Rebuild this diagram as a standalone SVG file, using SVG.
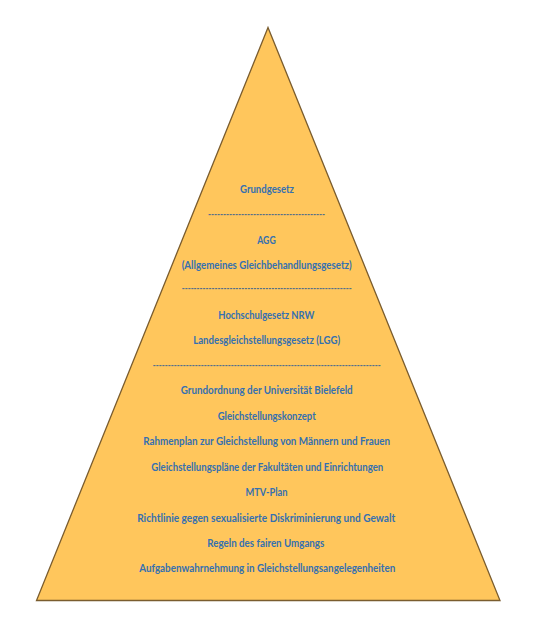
<svg xmlns="http://www.w3.org/2000/svg" width="536" height="617" viewBox="0 0 536 617">
<style>
.t{font-family:Lato,"Liberation Sans",sans-serif;font-weight:bold;font-size:11px;fill:#3570B0;text-anchor:middle}
.d{font-family:Lato,"Liberation Sans",sans-serif;font-weight:bold;font-size:11px;fill:#56708A;text-anchor:middle}
</style>
<rect width="536" height="617" fill="#ffffff"/>
<g id="pyramid">
<polygon points="268,27.5 36.5,600.5 500,600.5" fill="#FFC65C" stroke="#7A5C2E" stroke-width="1.3" stroke-linejoin="miter"/>
</g>
<g id="labels">
<text class="t" x="267" y="193" textLength="54" lengthAdjust="spacingAndGlyphs">Grundgesetz</text>
<text class="d" x="266.6" y="217.5" textLength="117" lengthAdjust="spacingAndGlyphs">---------------------------------------</text>
<text class="t" x="266.5" y="244.2" textLength="18.5" lengthAdjust="spacingAndGlyphs">AGG</text>
<text class="t" x="266.7" y="268.5" textLength="170" lengthAdjust="spacingAndGlyphs">(Allgemeines Gleichbehandlungsgesetz)</text>
<text class="d" x="266.7" y="292.2" textLength="170" lengthAdjust="spacingAndGlyphs">---------------------------------------------------------</text>
<text class="t" x="266.3" y="319.2" textLength="96" lengthAdjust="spacingAndGlyphs">Hochschulgesetz NRW</text>
<text class="t" x="266.7" y="343.5" textLength="147" lengthAdjust="spacingAndGlyphs">Landesgleichstellungsgesetz (LGG)</text>
<text class="d" x="266.7" y="369.2" textLength="228" lengthAdjust="spacingAndGlyphs">----------------------------------------------------------------------------</text>
<text class="t" x="266.7" y="393.5" textLength="172" lengthAdjust="spacingAndGlyphs">Grundordnung der Universität Bielefeld</text>
<text class="t" x="266.7" y="420.2" textLength="98" lengthAdjust="spacingAndGlyphs">Gleichstellungskonzept</text>
<text class="t" x="266.7" y="445.2" textLength="247" lengthAdjust="spacingAndGlyphs">Rahmenplan zur Gleichstellung  von Männern  und Frauen</text>
<text class="t" x="267.2" y="470.8" textLength="232" lengthAdjust="spacingAndGlyphs">Gleichstellungspläne  der Fakultäten und Einrichtungen</text>
<text class="t" x="266.5" y="496.2" textLength="42" lengthAdjust="spacingAndGlyphs">MTV-Plan</text>
<text class="t" x="266.2" y="521.5" textLength="258" lengthAdjust="spacingAndGlyphs">Richtlinie gegen sexualisierte Diskriminierung  und Gewalt</text>
<text class="t" x="265.8" y="546.5" textLength="117" lengthAdjust="spacingAndGlyphs">Regeln des fairen Umgangs</text>
<text class="t" x="267.2" y="572.2" textLength="256" lengthAdjust="spacingAndGlyphs">Aufgabenwahrnehmung in Gleichstellungsangelegenheiten</text>
</g>
</svg>
